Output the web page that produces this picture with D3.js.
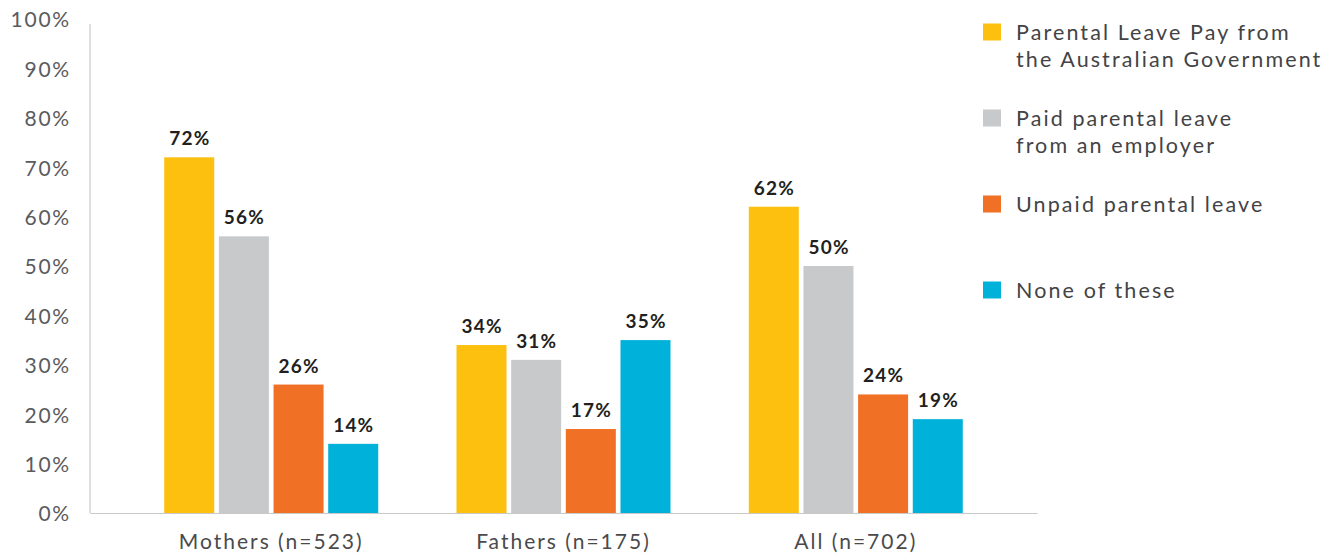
<!DOCTYPE html>
<html>
<head>
<meta charset="utf-8">
<script src="https://cdn.jsdelivr.net/npm/d3@7"></script>
<style>
  html, body { margin: 0; padding: 0; background: #fff; }
  svg { display: block; }
  text { font-family: Lato, "Open Sans", sans-serif; }
</style>
</head>
<body>
<svg id="chart" width="1343" height="557"></svg>
<script>
const categories = ["Mothers (n=523)", "Fathers (n=175)", "All (n=702)"];
const seriesNames = [
  ["Parental Leave Pay from", "the Australian Government"],
  ["Paid parental leave", "from an employer"],
  ["Unpaid parental leave"],
  ["None of these"]
];
const parentalLeavePay = [72, 34, 62];
const employerPaid = [56, 31, 50];
const unpaidLeave = [26, 17, 24];
const noneOfThese = [14, 35, 19];
const seriesValues = [parentalLeavePay, employerPaid, unpaidLeave, noneOfThese];
const colors = ["#fdc00f", "#c8c9cb", "#f07126", "#00b1d9"];
const yTicks = [0, 10, 20, 30, 40, 50, 60, 70, 80, 90, 100];

const svg = d3.select("#chart");
const plotLeft = 90, plotRight = 1037, plotBottom = 513, plotTop = 19;

const y = d3.scaleLinear().domain([0, 100]).range([plotBottom, plotTop]);
const x0 = d3.scaleBand().domain(categories).range([plotLeft, plotRight]).paddingInner(0).paddingOuter(0.12);
const groupWidth = 214;
const x1 = d3.scaleBand().domain(d3.range(seriesValues.length))
  .range([(x0.bandwidth() - groupWidth) / 2, (x0.bandwidth() + groupWidth) / 2])
  .paddingInner(0.085).paddingOuter(0);

// Y axis
const yAxis = svg.append("g").attr("transform", `translate(${plotLeft},0)`)
  .call(d3.axisLeft(y).tickValues(yTicks).tickFormat(d => d + "%").tickSize(0).tickPadding(19));
yAxis.select(".domain").remove();
yAxis.selectAll("text").attr("font-size", 21).attr("fill", "#5a5b5d")
  .attr("font-family", "Lato, sans-serif").attr("font-weight", 400).attr("letter-spacing", "1.8px")
  .attr("dy", "0.38em");

svg.append("line").attr("x1", plotLeft).attr("x2", plotLeft).attr("y1", y(0)).attr("y2", y(100) + 5)
  .attr("stroke", "#c9c9c9").attr("stroke-width", 1.2);

// X axis
const xAxis = svg.append("g").attr("transform", `translate(0,${plotBottom})`)
  .call(d3.axisBottom(x0).tickSize(0).tickPadding(21));
xAxis.select(".domain").attr("stroke", "#c9c9c9").attr("stroke-width", 1.2);
xAxis.selectAll("text").attr("font-size", 21).attr("fill", "#4a4a4c")
  .attr("font-family", "Lato, sans-serif").attr("font-weight", 400).attr("letter-spacing", "2px");

// Bars
const groups = svg.append("g").selectAll("g").data(categories).join("g")
  .attr("transform", d => `translate(${x0(d)},0)`);

groups.each(function(cat, ci) {
  const g = d3.select(this);
  seriesValues.forEach((vals, si) => {
    const v = vals[ci];
    g.append("rect")
      .attr("x", x1(si)).attr("width", x1.bandwidth())
      .attr("y", y(v)).attr("height", y(0) - y(v))
      .attr("fill", colors[si]);
    g.append("text")
      .attr("x", x1(si) + x1.bandwidth() / 2 + 0.6).attr("y", y(v) - 12)
      .attr("text-anchor", "middle").attr("font-size", 19).attr("font-weight", 700)
      .attr("fill", "#231f20").attr("letter-spacing", "1.2px")
      .text(v + "%");
  });
});

// Legend
const legendY = [32, 118, 204, 290];
const legend = svg.append("g");
seriesNames.forEach((lines, i) => {
  legend.append("rect").attr("x", 983).attr("y", legendY[i] - 8.5).attr("width", 18).attr("height", 17)
    .attr("fill", colors[i]);
  const t = legend.append("text").attr("x", 1016).attr("y", legendY[i])
    .attr("font-size", 21.5).attr("font-weight", 400).attr("fill", "#434345").attr("letter-spacing", "2.1px");
  lines.forEach((ln, li) => {
    t.append("tspan").attr("x", 1016).attr("dy", li === 0 ? "0.36em" : "27px").text(ln);
  });
});
</script>
</body>
</html>
